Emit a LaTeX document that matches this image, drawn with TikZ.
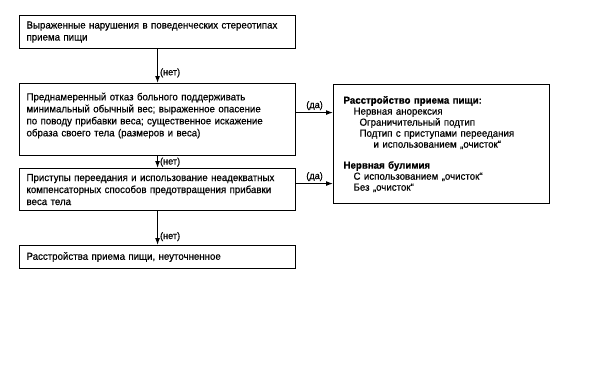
\documentclass[tikz,border=0pt]{standalone}
\usepackage{fontspec}
\setmainfont{Liberation Sans}[FakeStretch=0.95,FakeBold=0.5]
\usetikzlibrary{arrows.meta}
\begin{document}
\begin{tikzpicture}[x=1pt,y=-1pt,
  box/.style={draw,line width=1.1pt,anchor=north west,inner xsep=7pt,inner ysep=0pt,
    text width=262pt,minimum width=276pt,align=left,
    font=\fontsize{10.2}{12}\selectfont},
  rbox/.style={draw,line width=1.1pt,anchor=north west,inner xsep=10pt,inner ysep=0pt,
    text width=196pt,minimum width=216pt,align=left,
    font=\fontsize{10.2}{11}\selectfont},
  lbl/.style={font=\fontsize{9.6}{10}\selectfont,inner sep=2pt},
  arr/.style={line width=1.1pt,-{Latex[length=7pt,width=5pt]}}]
\fill[white] (0,0) rectangle (593,372);
\node[box,minimum height=33pt] (b1) at (19,15)
  {Выраженные нарушения в поведенческих стереотипах\\приема пищи};
\node[box,minimum height=72pt] (b2) at (19,83)
  {Преднамеренный отказ больного поддерживать\\минимальный обычный вес; выраженное опасение\\по поводу прибавки веса; существенное искажение\\образа своего тела (размеров и веса)\\[-2pt]\mbox{}};
\node[box,minimum height=42pt] (b3) at (19,168)
  {Приступы переедания и использование неадекватных\\компенсаторных способов предотвращения прибавки\\веса тела};
\node[box,minimum height=23pt] (b4) at (19,245)
  {Расстройства приема пищи, неуточненное};
\node[rbox,minimum height=119pt] (rb) at (333,84)
  {\textbf{Расстройство приема пищи:}\\[0pt]
   \hspace*{10pt}Нервная анорексия\\
   \hspace*{16pt}Ограничительный подтип\\
   \hspace*{16pt}Подтип с приступами переедания\\
   \hspace*{30pt}и использованием „очисток“\\[10pt]
   \textbf{Нервная булимия}\\
   \hspace*{10pt}С использованием „очисток“\\
   \hspace*{10pt}Без „очисток“};
\draw[arr] (b1.south) -- node[lbl,pos=0.7,right] {(нет)} (b2.north);
\draw[arr] (b2.south) -- node[lbl,pos=0.5,right] {(нет)} (b3.north);
\draw[arr] (b3.south) -- node[lbl,pos=0.75,right] {(нет)} (b4.north);
\draw[arr] ([yshift=7pt]b2.east) -- node[lbl,above] {(да)} ([yshift=7pt]b2.east -| rb.west);
\draw[arr] ([yshift=6pt]b3.east) -- node[lbl,above] {(да)} ([yshift=6pt]b3.east -| rb.west);
\end{tikzpicture}
\end{document}
